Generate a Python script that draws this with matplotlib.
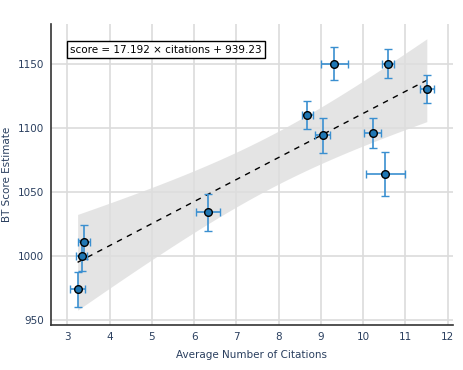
import numpy as np
import matplotlib
matplotlib.use("Agg")
import matplotlib.pyplot as plt

# Data
citations = [3.24, 3.34, 3.39, 6.33, 8.68, 9.04, 9.32, 10.23, 10.53, 10.60, 11.51]
scores = [974, 1000, 1011, 1034, 1110, 1094, 1150, 1096, 1064, 1150, 1130]
cit_err = [0.17, 0.13, 0.14, 0.28, 0.13, 0.17, 0.32, 0.20, 0.46, 0.14, 0.17]
score_err = [13.7, 12.0, 13.3, 14.5, 11.2, 13.9, 13.1, 12.0, 17.0, 11.2, 11.0]
slope = 17.192
intercept = 939.23
x_ticks = [3, 4, 5, 6, 7, 8, 9, 10, 11, 12]
y_ticks = [950, 1000, 1050, 1100, 1150]

plt.rcParams['font.family'] = ['DejaVu Sans']
txt_color = '#2a3f5f'

fig = plt.figure(figsize=(4.64, 3.70), dpi=100)
ax = fig.add_axes([51/464, 1-325/370, (453-51)/464, (325-24)/370])

x = np.array(citations)
y = np.array(scores)
n = len(x)
xbar = x.mean()
sxx = ((x - xbar) ** 2).sum()
resid = y - (slope * x + intercept)
s = np.sqrt((resid ** 2).sum() / (n - 2))
tval = 2.262
xs = np.linspace(x.min(), x.max(), 200)
ys = slope * xs + intercept
hw = tval * s * np.sqrt(1 / n + (xs - xbar) ** 2 / sxx)
ax.fill_between(xs, ys - hw, ys + hw, color='#dedede', alpha=0.8, linewidth=0, zorder=1)
ax.plot(xs, ys, color='black', linestyle=(0, (4, 4)), linewidth=1.0, zorder=3)

ax.errorbar(x, y, xerr=cit_err, yerr=score_err, fmt='o', color='#1f77b4',
            ecolor='#3a8fd0', elinewidth=1.2, capsize=3, capthick=1.2,
            markersize=5.5, markerfacecolor='#1f77b4', markeredgecolor='black',
            markeredgewidth=1.0, zorder=4)

ax.set_xlim(2.61, 12.13)
ax.set_ylim(946, 1181)
ax.set_xticks(x_ticks)
ax.set_yticks(y_ticks)
ax.grid(True, color='#dcdcdc', linewidth=1.2, zorder=0)
ax.set_axisbelow(True)
for sp in ['top', 'right']:
    ax.spines[sp].set_visible(False)
for sp in ['left', 'bottom']:
    ax.spines[sp].set_color('#333333')
    ax.spines[sp].set_linewidth(1.2)
ax.tick_params(length=0, labelsize=7.5, labelcolor=txt_color, pad=5)
ax.set_xlabel('Average Number of Citations', fontsize=7.5, color=txt_color, labelpad=6)
ax.set_ylabel('BT Score Estimate', fontsize=7.5, color=txt_color)
ax.yaxis.set_label_coords(-0.097, 0.5)

ax.text(0.047, 0.915, f'score = {slope} \u00d7 citations + {intercept}', transform=ax.transAxes,
        fontsize=7.5, color='black', va='center', ha='left', zorder=5,
        bbox=dict(boxstyle='square,pad=0.3', facecolor='white', edgecolor='black', linewidth=1.0))

fig.savefig('out.png', dpi=100)
